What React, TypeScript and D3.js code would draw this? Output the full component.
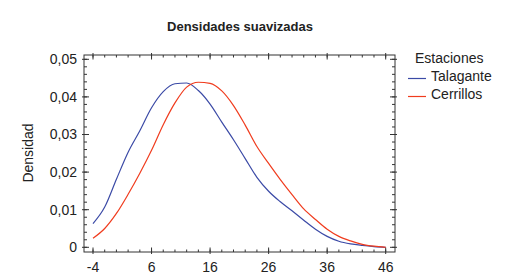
import React from "react";
import * as d3 from "d3";

const xValues = [-4, -2, 0, 2, 4, 6, 8, 10, 12, 14, 16, 18, 20, 22, 24, 26, 28, 30, 32, 34, 36, 38, 40, 42, 44, 46];
const talagante = [0.0063, 0.0107, 0.0181, 0.0253, 0.0310, 0.0371, 0.0414, 0.0435, 0.0437, 0.0417, 0.0381, 0.0333, 0.0286, 0.0236, 0.0186, 0.0149, 0.0121, 0.0097, 0.0072, 0.0048, 0.0029, 0.0016, 0.0009, 0.0005, 0.0002, 0.0];
const cerrillos = [0.0024, 0.0050, 0.0090, 0.0141, 0.0197, 0.0258, 0.0326, 0.0384, 0.0426, 0.0439, 0.0436, 0.0416, 0.0377, 0.0325, 0.0268, 0.0223, 0.0180, 0.0140, 0.0102, 0.0074, 0.0048, 0.0029, 0.0017, 0.0008, 0.0003, 0.0];
const xTicks = [-4, 6, 16, 26, 36, 46];
const yTicks = [0, 0.01, 0.02, 0.03, 0.04, 0.05];
const seriesNames = ["Talagante", "Cerrillos"];
const seriesColors = ["#3b4aa6", "#f03c1e"];

const W = 513;
const H = 279;
const box = { left: 84, right: 395, top: 55, bottom: 252 };
const FONT = "'Liberation Sans', Arial, sans-serif";

export default function App() {
  const x = d3.scaleLinear().domain([-4, 46]).range([93, 385.7]);
  const y = d3.scaleLinear().domain([0, 0.05]).range([247.3, 59.3]);

  const line = d3
    .line<[number, number]>()
    .x((d) => x(d[0]))
    .y((d) => y(d[1]))
    .curve(d3.curveMonotoneX);

  const series = [talagante, cerrillos].map((vals) =>
    vals.map((v, i) => [xValues[i], v] as [number, number])
  );

  const xMinor = d3.range(-4, 46.001, 2);
  const yMinor = d3.range(0, 0.05001, 0.002);
  const axisColor = "#333";

  const fmt = (v: number) => (v === 0 ? "0" : d3.format(".2f")(v).replace(".", ","));

  return (
    <svg
      width={W}
      height={H}
      style={{ position: "absolute", left: 0, top: 0, background: "#fff" }}
      fontFamily={FONT}
    >
      <text x={240} y={31} textAnchor="middle" fontSize={13} fontWeight="bold" fill="#222">
        Densidades suavizadas
      </text>

      {/* frame */}
      <rect
        x={box.left}
        y={box.top}
        width={box.right - box.left}
        height={box.bottom - box.top}
        fill="none"
        stroke={axisColor}
        strokeWidth={1}
      />

      {/* minor ticks */}
      {xMinor.map((t) => (
        <g key={"xm" + t} stroke={axisColor} strokeWidth={1}>
          <line x1={x(t)} x2={x(t)} y1={box.bottom} y2={box.bottom - 2.5} />
          <line x1={x(t)} x2={x(t)} y1={box.top} y2={box.top + 2.5} />
        </g>
      ))}
      {yMinor.map((t) => (
        <g key={"ym" + t} stroke={axisColor} strokeWidth={1}>
          <line x1={box.left} x2={box.left + 3} y1={y(t)} y2={y(t)} />
          <line x1={box.right} x2={box.right - 3} y1={y(t)} y2={y(t)} />
        </g>
      ))}
      {/* major ticks */}
      {xTicks.map((t) => (
        <g key={"xM" + t} stroke={axisColor} strokeWidth={1}>
          <line x1={x(t)} x2={x(t)} y1={box.bottom + 2} y2={box.bottom - 4.5} />
          <line x1={x(t)} x2={x(t)} y1={box.top - 2} y2={box.top + 4.5} />
        </g>
      ))}
      {yTicks.map((t) => (
        <g key={"yM" + t} stroke={axisColor} strokeWidth={1}>
          <line x1={box.left - 2} x2={box.left + 5} y1={y(t)} y2={y(t)} />
          <line x1={box.right + 2} x2={box.right - 5} y1={y(t)} y2={y(t)} />
        </g>
      ))}

      {/* tick labels */}
      {xTicks.map((t) => (
        <text key={"xl" + t} x={x(t)} y={272} textAnchor="middle" fontSize={14} fill="#222">
          {t}
        </text>
      ))}
      {yTicks.map((t) => (
        <text
          key={"yl" + t}
          x={77}
          y={y(t)}
          dy="0.35em"
          textAnchor="end"
          fontSize={14}
          fill="#222"
        >
          {fmt(t)}
        </text>
      ))}

      <text
        transform={`translate(33,153) rotate(-90)`}
        textAnchor="middle"
        fontSize={14}
        fill="#222"
      >
        Densidad
      </text>

      {/* curves */}
      {series.map((s, i) => (
        <path key={"s" + i} d={line(s) || ""} fill="none" stroke={seriesColors[i]} strokeWidth={1.2} />
      ))}

      {/* legend */}
      <text x={415} y={63} fontSize={14} fill="#222">
        Estaciones
      </text>
      {seriesNames.map((n, i) => (
        <g key={"lg" + n}>
          <line x1={408} x2={426} y1={78.5 + i * 18} y2={78.5 + i * 18} stroke={seriesColors[i]} strokeWidth={1.2} />
          <text x={431} y={81 + i * 18} fontSize={14} fill="#222">
            {n}
          </text>
        </g>
      ))}
    </svg>
  );
}
